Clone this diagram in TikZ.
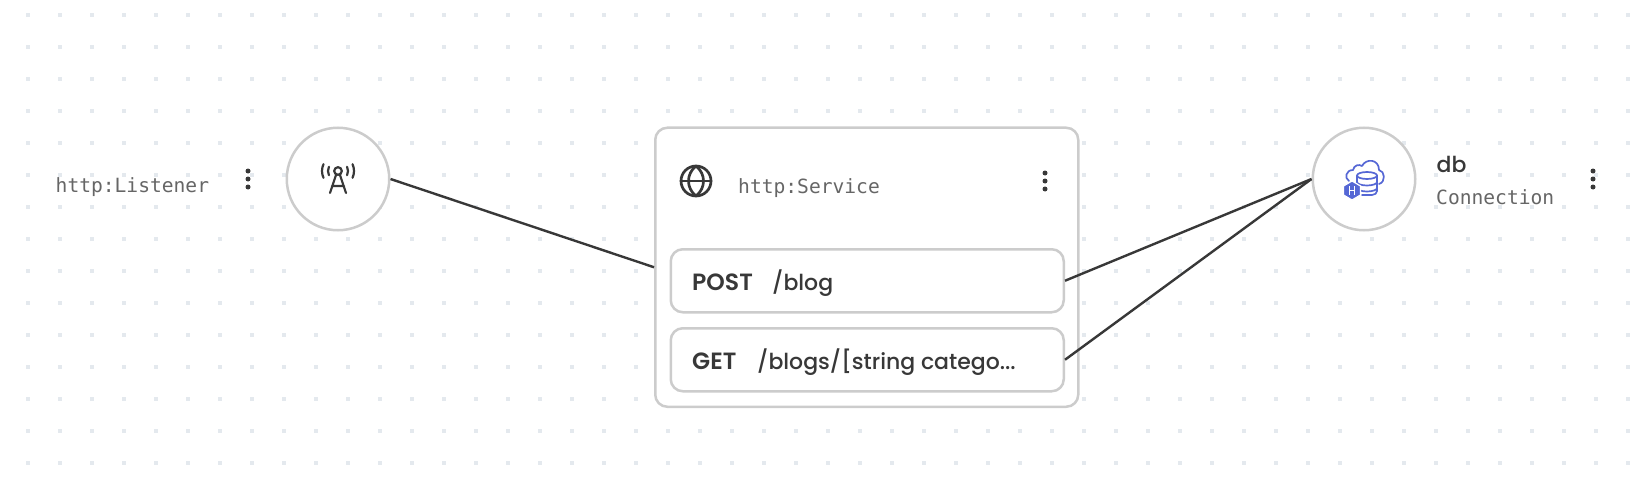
\documentclass[tikz,border=0pt]{standalone}
\usepackage{fontspec}
\setmainfont{Poppins Medium}[BoldFont={Poppins SemiBold}]
\setmonofont{DejaVu Sans Mono}
\usetikzlibrary{positioning}

\definecolor{griddot}{HTML}{E4E9EE}
\definecolor{edgegray}{HTML}{CCCCCC}
\definecolor{inkdark}{HTML}{383838}
\definecolor{inkmono}{HTML}{666666}
\definecolor{dbblue}{HTML}{5567D5}

\tikzset{
  roundbox/.style={draw=edgegray, line width=2.5pt, rounded corners=12pt, fill=white,
    inner sep=0pt, anchor=north west},
  ringnode/.style={circle, draw=edgegray, line width=2.5pt, fill=white,
    minimum size=102.5pt, inner sep=0pt},
  monotext/.style={font=\fontsize{19.6}{22}\ttfamily, text=inkmono, inner sep=0pt,
    anchor=base west},
  routetext/.style={font=\fontsize{22}{26}\selectfont, text=inkdark, inner sep=0pt,
    anchor=base west},
  verbtext/.style={font=\fontsize{23.5}{26}\bfseries, text=inkdark, inner sep=0pt,
    anchor=base west},
  wire/.style={draw=inkdark, line width=2.4pt},
  iconline/.style={draw=inkdark, line width=2.7pt, line cap=round, line join=round},
  towerline/.style={iconline, line width=2.2pt},
  dbline/.style={draw=dbblue, line width=1.7pt, line cap=round, line join=round}
}

\newcommand{\menudots}[2]{%
  \foreach \dy in {-8,0,8}
    \fill [inkdark] (#1,#2+\dy) circle (2.5);
}

\begin{document}
\begin{tikzpicture}[x=1pt, y=-1pt]

  \useasboundingbox (0,0) rectangle (1640,492);

  % background dots
  \foreach \i in {0,...,50}
    \foreach \j in {0,...,14}
      \fill [griddot] (26+32*\i,13+32*\j) rectangle ++(4,4);

  % listener
  \node [ringnode] (listener) at (338,179) {};
  \node [monotext] (listenerlabel) at (55.5,192) {http:Listener};
  \menudots{248}{179}

  % service box and its two routes
  \node [roundbox, minimum width=423pt, minimum height=279pt] (service) at (654,126.5) {};
  \node [roundbox, minimum width=393pt, minimum height=63pt] (post) at (669.5,248) {};
  \node [roundbox, minimum width=393pt, minimum height=63pt] (get) at (669.5,327) {};
  \node [monotext] (servicelabel) at (738,193) {http:Service};
  \menudots{1045}{181}
  \node [verbtext] (postverb) at (692,290) {POST};
  \node [routetext] (postpath) at (772,290) {/blog};
  \node [verbtext] (getverb) at (692,369) {GET};
  \node [routetext] (getpath) at (757,369) {/blogs/[string catego...};

  % connection
  \node [ringnode] (db) at (1364,179) {};
  \node [routetext] (dbname) at (1436.5,172) {db};
  \node [monotext] (dbtype) at (1436,204) {Connection};
  \menudots{1593}{179}

  \draw [wire] (listener.east) -- (service.west);
  \draw [wire] (post.east) -- (db.west);
  \draw [wire] (get.east) -- (db.west);

  % tower icon
  \draw [towerline] (338,171) circle (3.8);
  \draw [towerline] (336,175) -- (330,193) (340,175) -- (346,193) (332,186) -- (344,186);
  \foreach \r in {10,16} {
    \draw [towerline] (338,171) ++(155:\r) arc (155:205:\r);
    \draw [towerline] (338,171) ++(25:\r) arc (25:-25:\r);
  }

  % globe icon
  \draw [iconline] (696,181) circle (15);
  \draw [iconline] (681,181) -- (711,181);
  \draw [iconline] (696,166) .. controls (686,174) and (686,188) .. (696,196);
  \draw [iconline] (696,166) .. controls (706,174) and (706,188) .. (696,196);

  % db icon
  \draw [dbline] (1349,181) .. controls (1344,178) and (1346,170) .. (1353,170)
    .. controls (1354,165) and (1359,164) .. (1362,166)
    .. controls (1366,158) and (1379,159) .. (1379,170)
    .. controls (1385,171) and (1386,182) .. (1379,184);
  \draw [dbline, fill=white] (1367,175.5) ellipse (10 and 3.5);
  \draw [dbline] (1357,175.5) -- (1357,183) (1377,175.5) -- (1377,191);
  \foreach \y in {182,188}
    \draw [dbline] (1357,\y) arc (180:0:10 and 3.5);
  \draw [dbline] (1362,195) -- (1372,195) arc (90:0:5 and 4);
  \draw [white, line width=1.2pt, fill=dbblue] (1352,181) -- (1360.5,186) -- (1360.5,195)
    -- (1352,200) -- (1343.5,195) -- (1343.5,186) -- cycle;
  \draw [white, line width=1pt] (1349.5,186) -- (1349.5,195) (1354.5,186) -- (1354.5,195)
    (1349.5,190.5) -- (1354.5,190.5);

\end{tikzpicture}
\end{document}
